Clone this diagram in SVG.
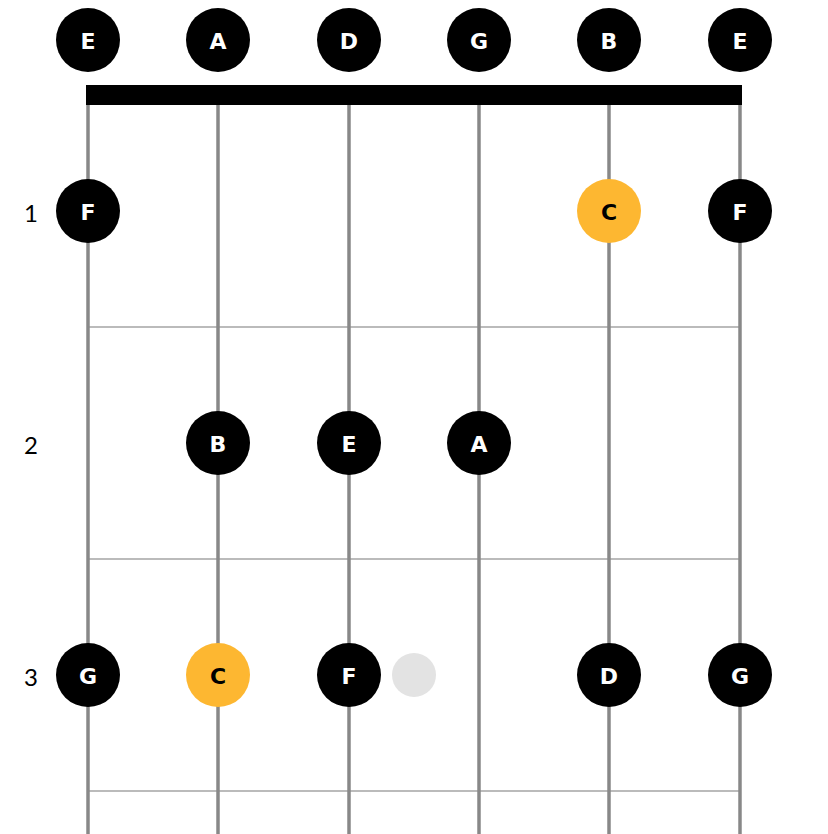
<svg xmlns="http://www.w3.org/2000/svg" width="828" height="834" viewBox="0 0 828 834">
<style>
.str{stroke:#888;stroke-width:3.5}
.fret{stroke:#bbb;stroke-width:2}
.dark{fill:#000}
.root{fill:#FDB731}
.lbl{font-family:"DejaVu Sans",Verdana,sans-serif;font-weight:bold;font-size:22px;text-anchor:middle;dominant-baseline:central}
.lw{fill:#fff}
.lb{fill:#000}
.num{font-family:Lato,"Open Sans",sans-serif;font-weight:400;font-size:24px;text-anchor:middle;dominant-baseline:central;fill:#000}
</style>
<rect width="828" height="834" fill="#fff"/>
<g id="connectors">
<line class="fret" x1="88" y1="327" x2="740" y2="327"/>
<line class="fret" x1="88" y1="559" x2="740" y2="559"/>
<line class="fret" x1="88" y1="791" x2="740" y2="791"/>
<line class="str" x1="88" y1="95" x2="88" y2="834"/>
<line class="str" x1="218" y1="95" x2="218" y2="834"/>
<line class="str" x1="349" y1="95" x2="349" y2="834"/>
<line class="str" x1="479" y1="95" x2="479" y2="834"/>
<line class="str" x1="609" y1="95" x2="609" y2="834"/>
<line class="str" x1="740" y1="95" x2="740" y2="834"/>
</g>
<g id="nut"><rect x="86" y="85" width="656" height="20" fill="#000"/></g>
<g id="fret-numbers">
<text class="num" x="31" y="212">1</text>
<text class="num" x="31" y="444">2</text>
<text class="num" x="31" y="676">3</text>
</g>
<g id="open-E6"><circle class="dark" cx="88" cy="40" r="32"/><text class="lbl lw" x="88" y="41">E</text></g>
<g id="open-A"><circle class="dark" cx="218" cy="40" r="32"/><text class="lbl lw" x="218" y="41">A</text></g>
<g id="open-D"><circle class="dark" cx="349" cy="40" r="32"/><text class="lbl lw" x="349" y="41">D</text></g>
<g id="open-G"><circle class="dark" cx="479" cy="40" r="32"/><text class="lbl lw" x="479" y="41">G</text></g>
<g id="open-B"><circle class="dark" cx="609" cy="40" r="32"/><text class="lbl lw" x="609" y="41">B</text></g>
<g id="open-E1"><circle class="dark" cx="740" cy="40" r="32"/><text class="lbl lw" x="740" y="41">E</text></g>
<g id="f1-E6"><circle class="dark" cx="88" cy="211" r="32"/><text class="lbl lw" x="88" y="212">F</text></g>
<g id="f1-B"><circle class="root" cx="609" cy="211" r="32"/><text class="lbl lb" x="609" y="212">C</text></g>
<g id="f1-E1"><circle class="dark" cx="740" cy="211" r="32"/><text class="lbl lw" x="740" y="212">F</text></g>
<g id="f2-A"><circle class="dark" cx="218" cy="443" r="32"/><text class="lbl lw" x="218" y="444">B</text></g>
<g id="f2-D"><circle class="dark" cx="349" cy="443" r="32"/><text class="lbl lw" x="349" y="444">E</text></g>
<g id="f2-G"><circle class="dark" cx="479" cy="443" r="32"/><text class="lbl lw" x="479" y="444">A</text></g>
<g id="f3-E6"><circle class="dark" cx="88" cy="675" r="32"/><text class="lbl lw" x="88" y="676">G</text></g>
<g id="f3-A"><circle class="root" cx="218" cy="675" r="32"/><text class="lbl lb" x="218" y="676">C</text></g>
<g id="f3-D"><circle class="dark" cx="349" cy="675" r="32"/><text class="lbl lw" x="349" y="676">F</text></g>
<g id="ghost"><circle cx="414" cy="675" r="22" fill="#e3e3e3"/></g>
<g id="f3-B"><circle class="dark" cx="609" cy="675" r="32"/><text class="lbl lw" x="609" y="676">D</text></g>
<g id="f3-E1"><circle class="dark" cx="740" cy="675" r="32"/><text class="lbl lw" x="740" y="676">G</text></g>
</svg>
